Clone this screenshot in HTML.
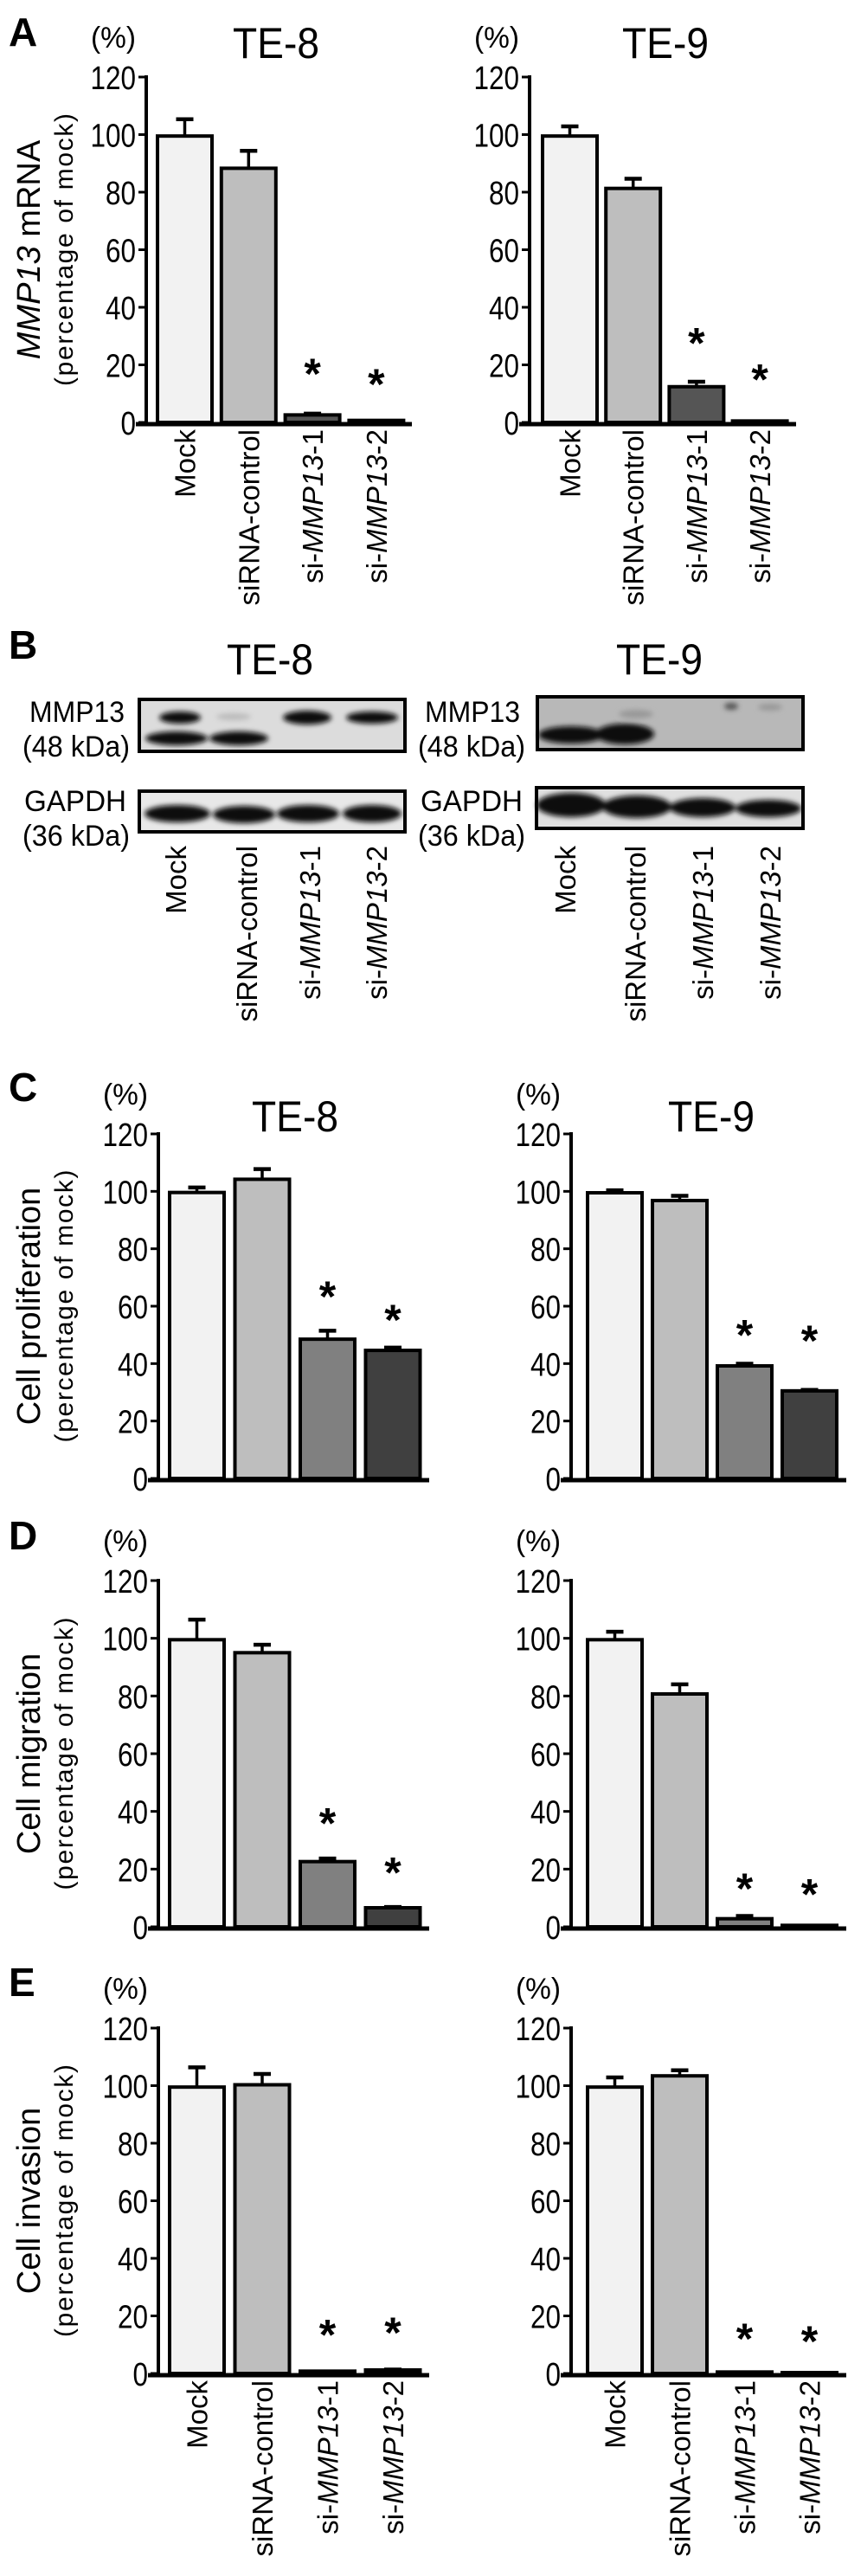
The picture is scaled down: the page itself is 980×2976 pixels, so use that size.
<!DOCTYPE html>
<html><head><meta charset="utf-8"><style>
html,body{margin:0;padding:0;background:#fff;}
svg{display:block;font-family:"Liberation Sans",Arial,sans-serif;}
</style></head><body>
<svg id="fig" width="980" height="2976" viewBox="0 0 980 2976" xmlns="http://www.w3.org/2000/svg">
<defs>
<filter id="blur" x="-20%" y="-50%" width="140%" height="200%"><feGaussianBlur stdDeviation="3"/></filter>
</defs>
<g font-weight="bold" font-size="46">
<text x="10" y="53">A</text>
<text x="10" y="761">B</text>
<text x="10" y="1272">C</text>
<text x="10" y="1790">D</text>
<text x="10" y="2306">E</text>
</g>
<g>
<text x="312" y="779" font-size="50" text-anchor="middle" textLength="100" lengthAdjust="spacingAndGlyphs">TE-8</text>
<text x="762" y="779" font-size="50" text-anchor="middle" textLength="100" lengthAdjust="spacingAndGlyphs">TE-9</text>
<g font-size="34" text-anchor="end" lengthAdjust="spacingAndGlyphs">
<text x="144" y="834" textLength="110" lengthAdjust="spacingAndGlyphs">MMP13</text>
<text x="150" y="874" textLength="124" lengthAdjust="spacingAndGlyphs">(48 kDa)</text>
<text x="146" y="937" textLength="118" lengthAdjust="spacingAndGlyphs">GAPDH</text>
<text x="150" y="977" textLength="124" lengthAdjust="spacingAndGlyphs">(36 kDa)</text>
<text x="601" y="834" textLength="110" lengthAdjust="spacingAndGlyphs">MMP13</text>
<text x="607" y="874" textLength="124" lengthAdjust="spacingAndGlyphs">(48 kDa)</text>
<text x="604" y="937" textLength="118" lengthAdjust="spacingAndGlyphs">GAPDH</text>
<text x="607" y="977" textLength="124" lengthAdjust="spacingAndGlyphs">(36 kDa)</text>
</g>
<g>
<rect x="161" y="808" width="307" height="60" fill="#dcdcdc" stroke="#000" stroke-width="4"/>
<g filter="url(#blur)" fill="#111">
<ellipse cx="208" cy="829" rx="24" ry="7"/>
<ellipse cx="270" cy="828" rx="20" ry="4" fill="#bbb"/>
<ellipse cx="355" cy="829" rx="28" ry="8"/>
<ellipse cx="430" cy="829" rx="30" ry="7"/>
<ellipse cx="204" cy="853" rx="36" ry="8"/>
<ellipse cx="276" cy="853" rx="34" ry="8"/>
</g></g>
<g>
<rect x="161" y="914" width="307" height="47" fill="#e8e8e8" stroke="#000" stroke-width="4"/>
<g filter="url(#blur)" fill="#0a0a0a">
<ellipse cx="205" cy="940" rx="38" ry="10"/>
<ellipse cx="282" cy="941" rx="36" ry="10"/>
<ellipse cx="356" cy="940" rx="36" ry="10"/>
<ellipse cx="430" cy="940" rx="34" ry="10"/>
</g></g>
<g>
<rect x="621" y="805" width="307" height="61" fill="#b8b8b8" stroke="#000" stroke-width="4"/>
<g filter="url(#blur)">
<ellipse cx="660" cy="849" rx="38" ry="10" fill="#111"/>
<ellipse cx="722" cy="848" rx="34" ry="12" fill="#111"/>
<ellipse cx="735" cy="825" rx="20" ry="5" fill="#999"/>
<ellipse cx="845" cy="816" rx="8" ry="4" fill="#555"/>
<ellipse cx="890" cy="817" rx="14" ry="4" fill="#999"/>
</g></g>
<g>
<rect x="620" y="910" width="308" height="47" fill="#e0e0e0" stroke="#000" stroke-width="4"/>
<g filter="url(#blur)" fill="#0a0a0a">
<ellipse cx="660" cy="930" rx="40" ry="14"/>
<ellipse cx="736" cy="932" rx="40" ry="13"/>
<ellipse cx="812" cy="933" rx="38" ry="11"/>
<ellipse cx="888" cy="934" rx="38" ry="10"/>
</g></g>
</g>
<g id="charts"></g>
</svg>
<script>
// ---- data ----
const categories = ["Mock", "siRNA-control", "si-MMP13-1", "si-MMP13-2"];
const yTicks = [0, 20, 40, 60, 80, 100, 120];
const mrnaTE8 = [99.5, 88.3, 2.6, 0.7];
const mrnaTE8Err = [6.3, 6.5, 0.9, 0.2];
const mrnaTE9 = [99.5, 81.3, 12.4, 0.5];
const mrnaTE9Err = [3.8, 3.8, 2.2, 0.1];
const prolifTE8 = [99.6, 104.2, 48.5, 44.6];
const prolifTE8Err = [2.2, 4.0, 3.4, 1.4];
const prolifTE9 = [99.5, 96.8, 39.2, 30.5];
const prolifTE9Err = [1.3, 2.1, 1.2, 0.8];
const migTE8 = [99.5, 95.0, 22.6, 6.6];
const migTE8Err = [7.4, 3.2, 1.5, 0.7];
const migTE9 = [99.5, 80.7, 2.8, 0.5];
const migTE9Err = [3.2, 3.8, 1.4, 0.1];
const invTE8 = [99.5, 100.3, 0.8, 1.2];
const invTE8Err = [7.3, 4.2, 0.2, 0.6];
const invTE9 = [99.5, 103.4, 0.5, 0.3];
const invTE9Err = [3.8, 2.4, 0.1, 0.1];
const starsMrnaTE8 = [null, null, 19, 15.4];
const starsMrnaTE9 = [null, null, 29.6, 17];
const starsProlifTE8 = [null, null, 65.4, 57.3];
const starsProlifTE9 = [null, null, 52, 50];
const starsMigTE8 = [null, null, 37.9, 20.8];
const starsMigTE9 = [null, null, 15.3, 13.3];
const starsInvTE8 = [null, null, 15.5, 16.3];
const starsInvTE9 = [null, null, 14.2, 13.3];

const NS = "http://www.w3.org/2000/svg";
const root = document.getElementById("charts");
function mk(tag, attrs, parent) {
  const e = document.createElementNS(NS, tag);
  for (const k in attrs) e.setAttribute(k, attrs[k]);
  (parent || root).appendChild(e);
  return e;
}
const fills = {A: ["#f2f2f2", "#bebebe", "#555555", "#404040"], C: ["#f2f2f2", "#bebebe", "#808080", "#404040"]};

function chart(cfg) {
  const g = mk("g", {});
  
  
  const yMax = 120;
  const yScale = v => cfg.base - (v / yMax) * (cfg.base - cfg.top);
  const xBand = i => cfg.x0 + i * cfg.step;
  cfg.values.forEach((v, i) => {
    const x = xBand(i), y = yScale(v), yb = cfg.base;
    const e = cfg.err[i];
    if (e > 0.15) {
      const ye = yScale(v + e);
      const l = mk("line", {x1: x + cfg.w / 2, x2: x + cfg.w / 2, y1: y, y2: ye, stroke: "#000", "stroke-width": 3.5}, g);
      
      
      const c = mk("line", {x1: x + cfg.w / 2 - 10, x2: x + cfg.w / 2 + 10, y1: ye + 1.5, y2: ye + 1.5, stroke: "#000", "stroke-width": 4.5}, g);
      
      
    }
    const h = Math.max(yb - y, 0.5);
    const r = mk("rect", {x: x, y: yb - h, width: cfg.w, height: h, fill: cfg.fills[i], stroke: "#000", "stroke-width": 4}, g);
    
    
    const s = cfg.stars[i];
    if (s != null) {
      const t = mk("text", {x: x + cfg.w / 2, y: yScale(s) + 24, "text-anchor": "middle", "font-size": 50, "font-weight": "bold"}, g);
      t.textContent = "*";
      
      
    }
  });
  const ax = mk("line", {x1: cfg.ax, x2: cfg.ax, y1: cfg.top - 2, y2: cfg.base, stroke: "#000", "stroke-width": 4}, g);
  
  
  const bl = mk("line", {x1: cfg.ax - 12, x2: cfg.end, y1: cfg.base + 2, y2: cfg.base + 2, stroke: "#000", "stroke-width": 5}, g);
  
  
  yTicks.forEach(t => {
    const y = yScale(t);
    const tk = mk("line", {x1: cfg.ax - 9, x2: cfg.ax, y1: y, y2: y, stroke: "#000", "stroke-width": 3}, g);
    
    
    const lab = String(t);
    const tl = mk("text", {x: cfg.ax - 12, y: y + 14, "text-anchor": "end", "font-size": 38, textLength: lab.length * 17.5, lengthAdjust: "spacingAndGlyphs"}, g);
    tl.textContent = lab;
    
    
  });
  const pc = mk("text", {x: cfg.ax - 64, y: cfg.top - 34, "font-size": 34, textLength: 52, lengthAdjust: "spacingAndGlyphs"}, g);
  pc.textContent = "(%)";
  
  
  if (cfg.title) {
    const tt = mk("text", {x: cfg.titleX, y: cfg.titleY, "text-anchor": "middle", "font-size": 50, textLength: 100, lengthAdjust: "spacingAndGlyphs"}, g);
    tt.textContent = cfg.title;
    
    
  }
  if (cfg.ytitle) {
    const mid = (cfg.top + cfg.base) / 2;
    const t1 = mk("text", {transform: `translate(46 ${mid}) rotate(-90)`, "text-anchor": "middle", "font-size": 38}, g);
    if (cfg.ytitleItalic) {
      const a = mk("tspan", {"font-style": "italic"}, t1); a.textContent = cfg.ytitleItalic;
    }
    const b = mk("tspan", {}, t1); b.textContent = cfg.ytitle;
    
    
    const t2 = mk("text", {transform: `translate(84 ${mid}) rotate(-90)`, "text-anchor": "middle", "font-size": 30, textLength: 315, lengthAdjust: "spacing"}, g);
    t2.textContent = "(percentage of mock)";
    
    
  }
  if (cfg.labels) catLabels(g, categories.map((c, i) => xBand(i) + cfg.w / 2), cfg.base + 8);
}
function catLabels(g, xs, yTop) {
  xs.forEach((cx, i) => {
    const t = mk("text", {transform: `translate(${cx + 12} ${yTop}) rotate(-90)`, "text-anchor": "end", "font-size": 33}, g);
    const c = categories[i];
    if (c.startsWith("si-")) {
      const a = mk("tspan", {}, t); a.textContent = "si-";
      const b = mk("tspan", {"font-style": "italic"}, t); b.textContent = "MMP13";
      const d = mk("tspan", {}, t); d.textContent = c.slice(8);
    } else t.textContent = c;
    
    
  });
}
const L = {x0: 182, step: 73.8, w: 63, ax: 169, end: 476};
const R = {x0: 627, step: 73.2, w: 63, ax: 612, end: 920};
const L2 = {x0: 196, step: 75.5, w: 63, ax: 183, end: 496};
const R2 = {x0: 679, step: 75, w: 63, ax: 660, end: 978};
chart(Object.assign({name: "chart-a-te8", top: 89, base: 488, values: mrnaTE8, err: mrnaTE8Err, stars: starsMrnaTE8, fills: fills.A, title: "TE-8", titleX: 319, titleY: 67, ytitleItalic: "MMP13", ytitle: " mRNA", labels: true}, L));
chart(Object.assign({name: "chart-a-te9", top: 89, base: 488, values: mrnaTE9, err: mrnaTE9Err, stars: starsMrnaTE9, fills: fills.A, title: "TE-9", titleX: 769, titleY: 67, labels: true}, R));
chart(Object.assign({name: "chart-c-te8", top: 1310, base: 1708, values: prolifTE8, err: prolifTE8Err, stars: starsProlifTE8, fills: fills.C, title: "TE-8", titleX: 341, titleY: 1307, ytitle: "Cell proliferation"}, L2));
chart(Object.assign({name: "chart-c-te9", top: 1310, base: 1708, values: prolifTE9, err: prolifTE9Err, stars: starsProlifTE9, fills: fills.C, title: "TE-9", titleX: 822, titleY: 1307}, R2));
chart(Object.assign({name: "chart-d-te8", top: 1826, base: 2226, values: migTE8, err: migTE8Err, stars: starsMigTE8, fills: fills.C, ytitle: "Cell migration"}, L2));
chart(Object.assign({name: "chart-d-te9", top: 1826, base: 2226, values: migTE9, err: migTE9Err, stars: starsMigTE9, fills: fills.C}, R2));
chart(Object.assign({name: "chart-e-te8", top: 2343, base: 2742, values: invTE8, err: invTE8Err, stars: starsInvTE8, fills: fills.C, ytitle: "Cell invasion", labels: true}, L2));
chart(Object.assign({name: "chart-e-te9", top: 2343, base: 2742, values: invTE9, err: invTE9Err, stars: starsInvTE9, fills: fills.C, labels: true}, R2));
const bg = mk("g", {});


catLabels(bg, [203, 285, 358, 435], 977);
catLabels(bg, [653, 734, 812, 890], 977);
</script>
</body></html>
